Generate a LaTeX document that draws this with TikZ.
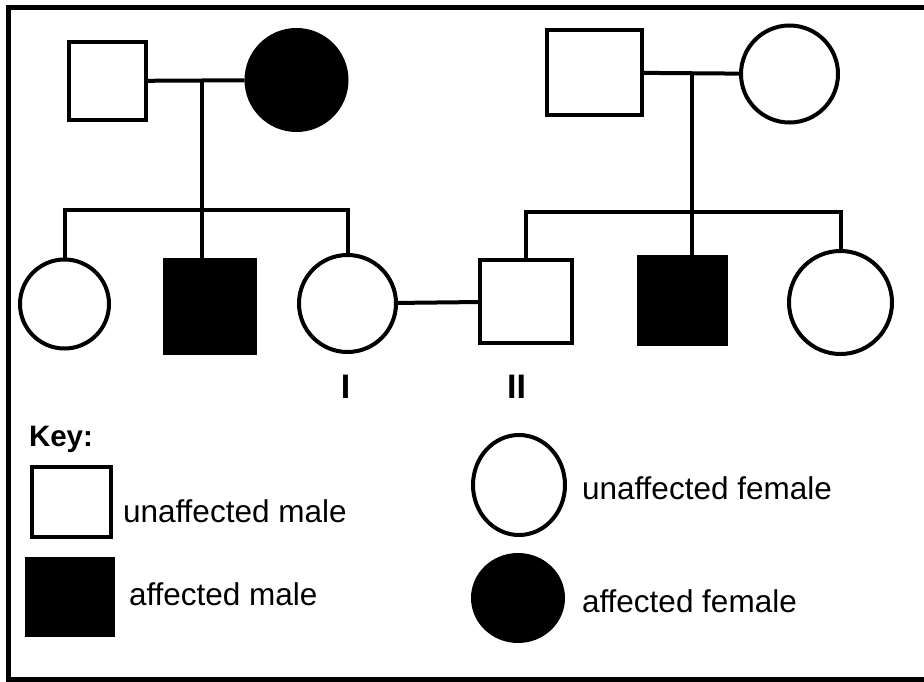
\documentclass[tikz,border=0pt]{standalone}
\usepackage{fontspec}
\setmainfont{Liberation Sans}
\usetikzlibrary{calc, shapes.geometric}

\begin{document}
\begin{tikzpicture}[x=1pt, y=-1pt, line width=4pt,
    person/.style={draw, line width=4pt, inner sep=0pt},
    male/.style={person, rectangle},
    female/.style={person, circle},
    affected/.style={fill=black},
    gen/.style={inner sep=0pt, anchor=base, font=\fontsize{34}{40}\bfseries},
    keytext/.style={anchor=base west, inner sep=0pt, font=\fontsize{31.5}{36}\selectfont}]
  \useasboundingbox (0,0) rectangle (924,682);
  \draw[line width=5pt] (924,8) -- (8,8) -- (8,679.5) -- (924,679.5);

  % left family
  \node[male, minimum width=77pt, minimum height=78pt] (m1) at (107.5,81) {};
  \node[female, affected, minimum size=100pt] (f1) at (296.5,80) {};
  \node[female, minimum size=89pt] (c1) at (64.5,304) {};
  \node[male, affected, minimum width=90pt, minimum height=93pt] (c2) at (210,306.5) {};
  \node[female, minimum size=97pt] (c3) at (347.5,303.5) {};

  \coordinate (u1) at ($(m1)!0.5!(f1)$);
  \coordinate (s1) at ($(u1)+(0,129)$);
  \draw (m1) -- (f1);
  \draw (u1) -- (s1);
  \draw (c1.north) |- (s1) -| (c3.north);
  \draw (s1) -- (c2.north -| s1);

  % right family
  \node[male, minimum width=95pt, minimum height=85pt] (m2) at (594.5,72.5) {};
  \node[female, minimum size=97pt] (f2) at (789.5,74) {};
  \node[male, minimum width=92pt, minimum height=83pt] (c4) at (526,301.5) {};
  \node[male, affected, minimum width=87pt, minimum height=87pt] (c5) at (682.5,300.5) {};
  \node[female, minimum size=103pt] (c6) at (840.5,302.5) {};

  \coordinate (u2) at ($(m2)!0.5!(f2)$);
  \coordinate (s2) at ($(u2)+(0,138.5)$);
  \draw (m2) -- (f2);
  \draw (u2) -- (s2);
  \draw (c4.north) |- (s2) -| (c6.north);
  \draw (s2) -- (c5.north -| s2);

  % marriage I -- II
  \draw (c3) -- (c4);
  \node[gen] (lblI) at (345.5,398) {I};
  \node[gen] (lblII) at (516.5,398) {II};

  % key
  \node[anchor=base west, inner sep=0pt, font=\fontsize{29.5}{34}\bfseries] (keyhead) at (27,446) {Key:};
  \node[male, minimum width=79pt, minimum height=70pt] (kum) at (71,502) {};
  \node[male, affected, minimum width=86pt, minimum height=76pt] (kam) at (70,597) {};
  \node[person, ellipse, minimum width=92pt, minimum height=100pt] (kuf) at (519,485) {};
  \node[person, ellipse, affected, minimum width=90pt, minimum height=86pt] (kaf) at (518,598) {};
  \node[keytext] (tum) at (121,522) {unaffected male};
  \node[keytext] (tam) at (127,605) {affected male};
  \node[keytext] (tuf) at (580,499) {unaffected female};
  \node[keytext] (taf) at (580,612) {affected female};
\end{tikzpicture}
\end{document}
